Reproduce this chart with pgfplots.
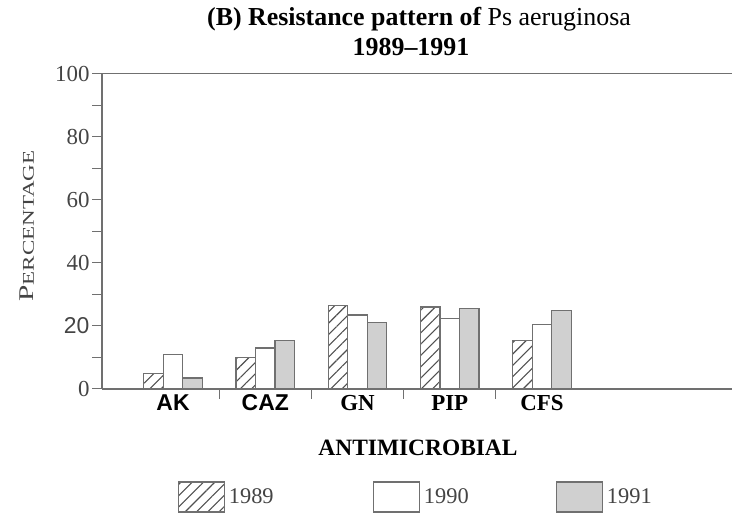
\documentclass[border=0pt]{standalone}
\usepackage{fontspec}
\setmainfont{Liberation Serif}
\newfontfamily\arialf{Liberation Sans}
\usepackage{pgfplots}
\pgfplotsset{compat=1.18}
\usetikzlibrary{patterns.meta}

\definecolor{edge}{HTML}{707070}
\definecolor{barfill}{HTML}{D0D0D0}
\definecolor{hatch}{HTML}{505050}
\definecolor{txt}{HTML}{444444}

\begin{document}
\begin{tikzpicture}[x=1bp,y=1bp]
\path[use as bounding box] (0,0) rectangle (732,516);
\begin{axis}[
  at={(102bp,127bp)}, anchor=south west,
  scale only axis, width=630bp, height=315bp,
  xmin=-0.77, xmax=6.06, ymin=0, ymax=100,
  axis x line*=bottom, axis y line*=left,
  axis line style={draw=edge, line width=1.2bp},
  ytick={0,20,...,80,100}, minor ytick={10,30,...,90},
  yticklabels={0,{\arialf 20},40,60,80,100},
  tick align=outside, major tick length=10bp, minor tick length=10bp,
  tick style={draw=edge, line width=1bp},
  yticklabel style={font=\fontsize{23}{23}\selectfont, text=txt, xshift=1bp},
  xtick={0.5,1.5,2.5,3.5}, xticklabels={},
  extra x ticks={0,1,2,3,4},
  extra x tick labels={{\arialf\bfseries AK},{\arialf\bfseries CAZ},{\bfseries GN},{\bfseries PIP},{\bfseries CFS}},
  extra x tick style={major tick length=0pt, tick style={draw=none}},
  xticklabel style={font=\fontsize{23}{23}\selectfont, text=black, yshift=-2bp,
    text height=16bp, text depth=0pt},
  legend image code/.code={\draw[#1] (0bp,-15bp) rectangle (46bp,15bp);},
  legend style={at={(axis description cs:0.115,0)}, anchor=west, yshift=-108bp,
    draw=none, fill=none, legend columns=3,
    font=\fontsize{22.5}{22.5}\selectfont, text=txt,
    nodes={inner sep=4bp},
    /tikz/every even column/.append style={column sep=83bp}},
]
\addplot[ybar, bar width=0.212, bar shift=-0.212, draw=edge, line width=1.2bp,
  pattern={Lines[angle=45,distance=8bp,line width=1.1bp]}, pattern color=hatch]
  coordinates {(0,5) (1,10) (2,26.5) (3,26) (4,15.5)};
\addplot[ybar, bar width=0.212, bar shift=0, draw=edge, line width=1.2bp, fill=white]
  coordinates {(0,11) (1,13) (2,23.5) (3,22.5) (4,20.5)};
\addplot[ybar, bar width=0.212, bar shift=0.212, draw=edge, line width=1.2bp, fill=barfill]
  coordinates {(0,3.5) (1,15.5) (2,21) (3,25.5) (4,25)};
\legend{1989\rule{12bp}{0pt},1990,1991}
\draw[edge, line width=1bp] (rel axis cs:0,1) -- (rel axis cs:1,1);
\end{axis}
\node[font=\fontsize{26}{26}\selectfont\bfseries] at (419,497) {(B) Resistance pattern of \mdseries Ps aeruginosa};
\node[font=\fontsize{26}{26}\selectfont\bfseries] at (411,469) {1989--1991};
\node[font=\fontsize{23.5}{23.5}\selectfont\bfseries] at (418,68) {ANTIMICROBIAL};
\node[rotate=90, text=txt] at (27,290) {\scalebox{1.4}[1]{{\fontsize{21}{21}\selectfont P}{\fontsize{16.5}{16.5}\selectfont ERCENTAGE}}};
\end{tikzpicture}
\end{document}
